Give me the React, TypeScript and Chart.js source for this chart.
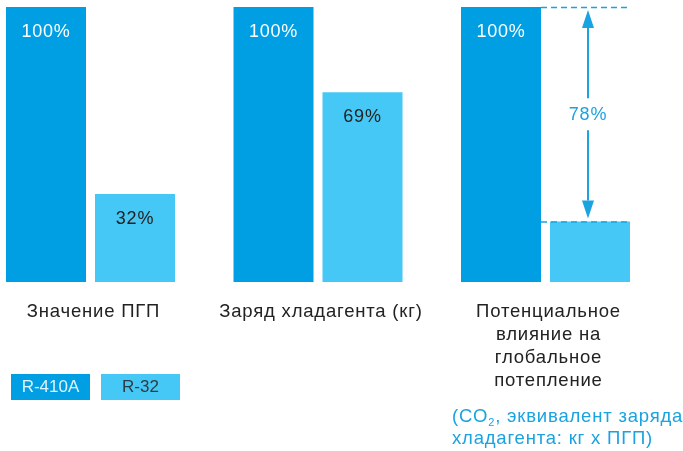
import { useEffect, useRef } from "react";
import { Chart, registerables } from "chart.js";

Chart.register(...registerables);

const categories: string[][] = [
  ["Значение ПГП"],
  ["Заряд хладагента (кг)"],
  ["Потенциальное", "влияние на", "глобальное", "потепление"],
];
const seriesNames = ["R-410A", "R-32"];
const r410aValues = [100, 100, 100];
const r32Values = [32, 69, 22];
const r410aLabels = ["100%", "100%", "100%"];
const r32Labels = ["32%", "69%", ""];
const footnoteLine1 = ["(CO", "2", ", эквивалент заряда"];
const footnoteLine2 = "хладагента: кг х ПГП)";

const DARK = "#009FE3";
const LIGHT = "#45C8F5";
const ACCENT = "#1AA3E0";
const TEXT = "#222222";
const FONT = "'Liberation Sans', Arial, sans-serif";

const spacingPlugin = {
  id: "spacing",
  beforeDraw(chart: any) {
    (chart.ctx as any).letterSpacing = "0.8px";
  },
};

const overlayPlugin = {
  id: "overlay",
  afterDatasetsDraw(chart: any) {
    const ctx = chart.ctx as any;
    const m0 = chart.getDatasetMeta(0);
    const m1 = chart.getDatasetMeta(1);
    ctx.save();
    ctx.letterSpacing = "0.8px";
    // value labels
    ctx.font = `18px ${FONT}`;
    ctx.textAlign = "center";
    ctx.textBaseline = "middle";
    m0.data.forEach((el: any, i: number) => {
      ctx.fillStyle = "#ffffff";
      ctx.fillText(r410aLabels[i], el.x, el.y + 25);
    });
    m1.data.forEach((el: any, i: number) => {
      if (!r32Labels[i]) return;
      ctx.fillStyle = TEXT;
      ctx.fillText(r32Labels[i], el.x, el.y + 25);
    });

    // annotation on last group
    const last = r410aValues.length - 1;
    const d = m0.data[last];
    const l = m1.data[last];
    const x0 = d.x + d.width / 2;
    const x1 = l.x + l.width / 2;
    ctx.strokeStyle = ACCENT;
    ctx.lineWidth = 1.5;
    ctx.setLineDash([6, 4]);
    ctx.beginPath();
    ctx.moveTo(x0, d.y + 0.5);
    ctx.lineTo(x1, d.y + 0.5);
    ctx.moveTo(x0, l.y + 0.5);
    ctx.lineTo(x1, l.y + 0.5);
    ctx.stroke();
    ctx.setLineDash([]);
    const ax = l.x - 2;
    const midY = (d.y + l.y) / 2 + 1;
    const ah = 18;
    const aw = 6;
    ctx.lineWidth = 2;
    ctx.beginPath();
    ctx.moveTo(ax, d.y + 3 + ah);
    ctx.lineTo(ax, midY - 17);
    ctx.moveTo(ax, midY + 15);
    ctx.lineTo(ax, l.y - 3 - ah);
    ctx.stroke();
    ctx.fillStyle = ACCENT;
    ctx.beginPath();
    ctx.moveTo(ax, d.y + 3);
    ctx.lineTo(ax - aw, d.y + 3 + ah);
    ctx.lineTo(ax + aw, d.y + 3 + ah);
    ctx.closePath();
    ctx.fill();
    ctx.beginPath();
    ctx.moveTo(ax, l.y - 3);
    ctx.lineTo(ax - aw, l.y - 3 - ah);
    ctx.lineTo(ax + aw, l.y - 3 - ah);
    ctx.closePath();
    ctx.fill();
    ctx.font = `18px ${FONT}`;
    ctx.fillText(`${r410aValues[last] - r32Values[last]}%`, ax, midY);

    // legend
    const colors = [DARK, LIGHT];
    const txtColors = ["#dff3fc", "#2e3b45"];
    ctx.letterSpacing = "0px";
    ctx.font = `17px 'Liberation Sans Narrow', ${FONT}`;
    seriesNames.forEach((name, i) => {
      const bx = 11 + i * 90;
      const by = 374;
      ctx.fillStyle = colors[i];
      ctx.fillRect(bx, by, 79, 26);
      ctx.fillStyle = txtColors[i];
      ctx.textAlign = "center";
      ctx.fillText(name, bx + 39.5, by + 13.5);
    });

    // footnote
    ctx.letterSpacing = "0.8px";
    ctx.fillStyle = ACCENT;
    ctx.textAlign = "left";
    ctx.textBaseline = "alphabetic";
    let fx = 452;
    const fy1 = 422;
    ctx.font = `18.5px ${FONT}`;
    ctx.fillText(footnoteLine1[0], fx, fy1);
    fx += ctx.measureText(footnoteLine1[0]).width;
    ctx.font = `11px ${FONT}`;
    ctx.fillText(footnoteLine1[1], fx, fy1 + 4);
    fx += ctx.measureText(footnoteLine1[1]).width;
    ctx.font = `18.5px ${FONT}`;
    ctx.fillText(footnoteLine1[2], fx, fy1);
    ctx.fillText(footnoteLine2, 452, fy1 + 22);
    ctx.restore();
  },
};

export default function App() {
  const ref = useRef<HTMLCanvasElement | null>(null);
  useEffect(() => {
    if (!ref.current) return;
    const chart = new Chart(ref.current, {
      type: "bar",
      data: {
        labels: categories,
        datasets: [
          { label: seriesNames[0], data: r410aValues, backgroundColor: DARK, clip: false as any },
          { label: seriesNames[1], data: r32Values, backgroundColor: LIGHT, clip: false as any },
        ],
      },
      options: {
        responsive: false,
        animation: false,
        categoryPercentage: 178 / 227.5,
        barPercentage: 80 / 89,
        layout: { padding: { left: 90.5, right: 137.5, top: 7, bottom: 0 } },
        plugins: { legend: { display: false }, tooltip: { enabled: false } },
        scales: {
          x: {
            offset: false,
            grid: { display: false, drawTicks: false },
            border: { display: false },
            ticks: {
              padding: 18.5,
              labelOffset: 3,
              color: TEXT,
              font: { family: FONT, size: 18.5, lineHeight: 23 / 18.5 },
              maxRotation: 0,
              autoSkip: false,
            },
            afterFit: (scale: any) => {
              scale.height = 169;
            },
          },
          y: { display: false, min: 0, max: 100 },
        },
      },
      plugins: [spacingPlugin, overlayPlugin],
    });
    return () => chart.destroy();
  }, []);
  return (
    <div style={{ position: "fixed", left: 0, top: 0, width: 683, height: 451, background: "#fff" }}>
      <canvas ref={ref} width={683} height={451} />
    </div>
  );
}
